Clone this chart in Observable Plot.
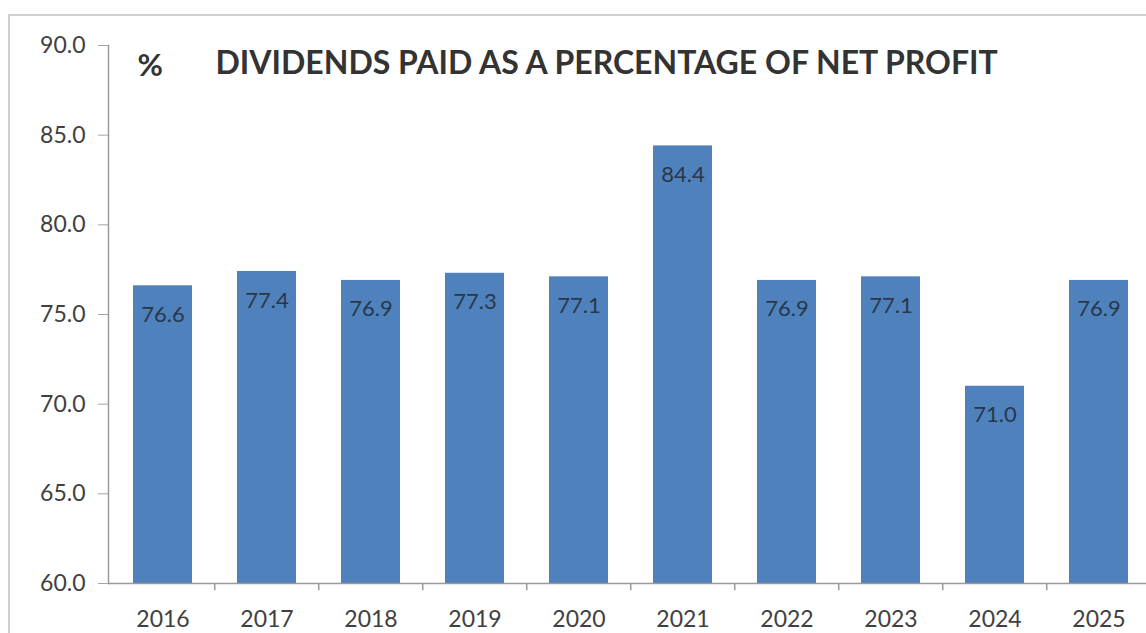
<!DOCTYPE html>
<html>
<head>
<meta charset="utf-8">
<script src="https://cdn.jsdelivr.net/npm/d3@7"></script>
<script src="https://cdn.jsdelivr.net/npm/@observablehq/plot@0.6"></script>
<style>
  html, body { margin: 0; padding: 0; background: #fff; overflow: hidden; }
  #wrap { position: relative; width: 1146px; height: 633px; }
  #border { position: absolute; left: 8px; top: 14px; width: 1200px; height: 700px;
            border-left: 2px solid #cfcfcf; border-top: 2px solid #cfcfcf; box-sizing: border-box; }
  #chart { position: absolute; left: 0; top: 0; }
</style>
</head>
<body>
<div id="wrap"><div id="border"></div><div id="chart"></div></div>
<script>
const years = ["2016","2017","2018","2019","2020","2021","2022","2023","2024","2025"];
const payout = [76.6, 77.4, 76.9, 77.3, 77.1, 84.4, 76.9, 77.1, 71.0, 76.9];
const yTicks = [60, 65, 70, 75, 80, 85, 90];
const titleMark = "%";
const titleText = "DIVIDENDS PAID AS A PERCENTAGE OF NET PROFIT";

const data = years.map((y, i) => ({year: y, value: payout[i]}));

const W = 1146, H = 633;
const mL = 108, mR = -7, mT = 45, mB = 50;
const step = (W - mL - mR) / years.length;
const font = "Lato, 'Open Sans', sans-serif";

const chart = Plot.plot({
  width: W, height: H,
  marginLeft: mL, marginRight: mR, marginTop: mT, marginBottom: mB,
  style: {fontFamily: font, background: "transparent", overflow: "visible"},
  x: {domain: years, paddingInner: 0.435, paddingOuter: 0.2175, axis: null},
  y: {domain: [60, 90], axis: null},
  marks: [
    Plot.barY(data, {x: "year", y1: 60, y2: "value", fill: "#4f81bd"}),
    Plot.text(data, {x: "year", y: "value", text: d => d.value.toFixed(1), dy: 29,
      lineAnchor: "middle", fill: "#28384a", fontSize: 22}),
    Plot.ruleY([60], {stroke: "#9a9a9a", strokeWidth: 1.5}),
    Plot.frame({anchor: "left", stroke: "#9a9a9a", strokeWidth: 1.5}),
    Plot.ruleX(years.slice(1), {x: d => d, dx: -step / 2, y1: 60, y2: 59.6, stroke: "#9a9a9a", strokeWidth: 1.5}),
    Plot.axisY({ticks: yTicks, tickFormat: d => d.toFixed(1), tickSize: 10, tickPadding: 13,
      fontSize: 23, fill: "#404040", stroke: "#a6a6a6", label: null}),
    Plot.axisX({tickSize: 0, tickPadding: 27, fontSize: 23, fill: "#404040", label: null}),
    Plot.text([titleMark], {frameAnchor: "top-left", dx: 29, dy: 21, text: d => d,
      fontSize: 31, fontWeight: "bold", fill: "#333", textAnchor: "start", lineAnchor: "middle"}),
    Plot.text([titleText], {frameAnchor: "top-left", dx: 107, dy: 18, text: d => d,
      fontSize: 32, fontWeight: "bold", fill: "#333", textAnchor: "start", lineAnchor: "middle"})
  ]
});
document.getElementById("chart").appendChild(chart);
</script>
</body>
</html>
